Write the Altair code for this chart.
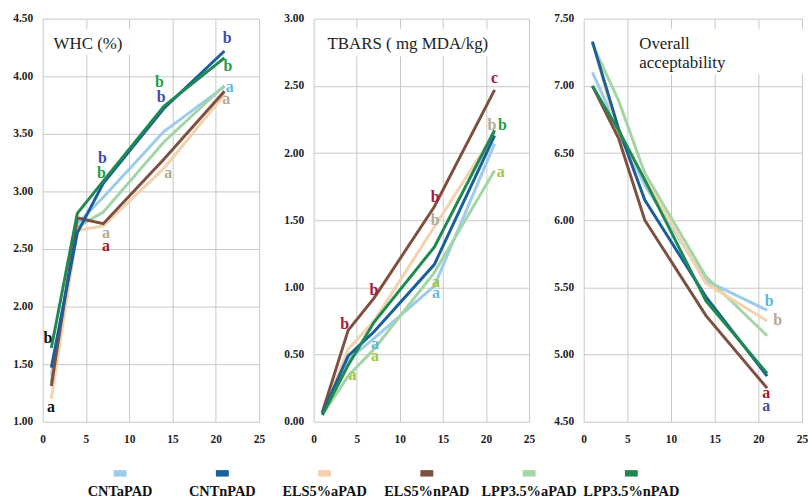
import altair as alt
import pandas as pd

# ---------------- data ----------------
days = [1, 4, 7, 14, 21]
series = ["CNTaPAD", "CNTnPAD", "ELS5%aPAD", "ELS5%nPAD", "LPP3.5%aPAD", "LPP3.5%nPAD"]

# WHC (%)
whc_cnt_a = [1.40, 2.72, 2.95, 3.52, 3.91]
whc_cnt_n = [1.47, 2.64, 3.07, 3.72, 4.22]
whc_els_a = [1.20, 2.66, 2.70, 3.20, 3.84]
whc_els_n = [1.31, 2.77, 2.72, 3.28, 3.87]
whc_lpp_a = [1.34, 2.69, 2.82, 3.43, 3.92]
whc_lpp_n = [1.64, 2.81, 3.09, 3.74, 4.16]

# TBARS (mg MDA/kg)
tb_cnt_a = [0.06, 0.46, 0.62, 1.01, 2.07]
tb_cnt_n = [0.06, 0.49, 0.67, 1.17, 2.13]
tb_els_a = [0.06, 0.54, 0.75, 1.45, 2.15]
tb_els_n = [0.07, 0.68, 0.92, 1.60, 2.47]
tb_lpp_a = [0.05, 0.34, 0.54, 1.11, 1.87]
tb_lpp_n = [0.05, 0.42, 0.74, 1.30, 2.17]

# Overall acceptability
oa_cnt_a = [7.10, 6.67, 6.26, 5.55, 5.33]
oa_cnt_n = [7.33, 6.68, 6.15, 5.43, 4.84]
oa_els_a = [7.33, 6.63, 6.31, 5.53, 5.25]
oa_els_n = [7.00, 6.61, 6.00, 5.29, 4.75]
oa_lpp_a = [7.31, 6.89, 6.35, 5.58, 5.14]
oa_lpp_n = [7.00, 6.67, 6.30, 5.40, 4.86]

# significance letters
whc_ann_series = ["all", "all", "CNTnPAD", "LPP3.5%nPAD", "ELS5%aPAD", "ELS5%nPAD",
                  "LPP3.5%nPAD", "CNTnPAD", "ELS5%aPAD", "CNTnPAD", "LPP3.5%nPAD",
                  "CNTaPAD", "ELS5%aPAD"]
whc_ann_day = [0.6, 0.95, 6.9, 6.8, 7.3, 7.3, 13.5, 13.7, 14.5, 21.3, 21.4, 21.6, 21.2]
whc_ann_value = [1.73, 1.13, 3.29, 3.16, 2.64, 2.53, 3.95, 3.82, 3.16, 4.33, 4.09, 3.91, 3.80]
whc_ann_letter = ["b", "a", "b", "b", "a", "a", "b", "b", "a", "b", "b", "a", "a"]

tb_ann_series = ["ELS5%nPAD", "ELS5%aPAD", "LPP3.5%nPAD", "LPP3.5%aPAD", "ELS5%nPAD",
                 "ELS5%aPAD", "LPP3.5%aPAD", "CNTaPAD", "ELS5%nPAD", "ELS5%nPAD",
                 "CNTaPAD", "LPP3.5%aPAD", "LPP3.5%aPAD"]
tb_ann_day = [21.0, 20.7, 21.9, 21.7, 14.1, 14.1, 14.2, 14.2, 7.0, 3.6, 7.1, 7.1, 4.5]
tb_ann_value = [2.56, 2.21, 2.21, 1.86, 1.67, 1.50, 1.04, 0.96, 0.98, 0.73, 0.58, 0.49, 0.35]
tb_ann_letter = ["c", "b", "b", "a", "b", "b", "a", "a", "b", "b", "a", "a", "a"]

oa_ann_series = ["CNTaPAD", "ELS5%aPAD", "ELS5%nPAD", "CNTnPAD"]
oa_ann_day = [21.25, 22.2, 20.9, 20.9]
oa_ann_value = [5.40, 5.26, 4.71, 4.62]
oa_ann_letter = ["b", "b", "a", "a"]

# ---------------- styles ----------------
line_colors = ["#9ccbec", "#1a5f9c", "#f2d3ae", "#7d5040", "#a3d5a5", "#1f8a4f"]
letter_domain = series + ["all"]
letter_colors = ["#5cb8de", "#3d4faa", "#b5aa98", "#a8163a", "#9cc83c", "#1f9e48", "#111111"]
draw_order = ["CNTaPAD", "LPP3.5%aPAD", "ELS5%aPAD", "ELS5%nPAD", "CNTnPAD", "LPP3.5%nPAD"]

SERIF = "Liberation Serif, DejaVu Serif, serif"
GRID = "#c8c8c8"


def long_df(lists):
    rows = []
    for name, vals in zip(series, lists):
        for d, v in zip(days, vals):
            rows.append({"series": name, "day": d, "value": v})
    return pd.DataFrame(rows)


def panel(lists, ann, ydom, title, tx, box, width):
    df = long_df(lists)
    yvals = [round(ydom[0] + 0.5 * i, 2) for i in range(int(round((ydom[1] - ydom[0]) / 0.5)) + 1)]
    xs = alt.X("day:Q", scale=alt.Scale(domain=[0, 25], nice=False),
               axis=alt.Axis(values=[0, 5, 10, 15, 20, 25], grid=True, gridColor=GRID,
                             domain=False, ticks=False, labelFont=SERIF,
                             labelFontWeight="bold", labelFontSize=11.5, labelColor="#222",
                             labelPadding=12, labelFlush=False, title=None))
    ys = alt.Y("value:Q", scale=alt.Scale(domain=ydom, nice=False, zero=False),
               axis=alt.Axis(values=yvals, format=".2f", grid=True, gridColor=GRID,
                             domain=False, ticks=False, labelFont=SERIF,
                             labelFontWeight="bold", labelFontSize=11.5, labelColor="#222",
                             labelPadding=10, labelFlush=False, title=None))
    one = pd.DataFrame({"k": [0]})
    layers = []
    base_lines = alt.Chart(df).mark_line(opacity=0).encode(x=xs, y=ys)
    layers.append(base_lines)
    layers.append(alt.Chart(one).mark_rect(color="white").encode(
        x=alt.value(box[0]), x2=alt.value(box[1]), y=alt.value(box[2]), y2=alt.value(box[3])))
    for name in draw_order:
        sub = df[df["series"] == name]
        col = line_colors[series.index(name)]
        layers.append(alt.Chart(sub).mark_line(strokeWidth=3, color=col).encode(
            x="day:Q", y="value:Q"))
    adf = pd.DataFrame({"series": ann[0], "day": ann[1], "value": ann[2], "letter": ann[3]})
    layers.append(alt.Chart(adf).mark_text(font=SERIF, fontWeight="bold", fontSize=16,
                                           align="center", baseline="middle").encode(
        x="day:Q", y="value:Q", text="letter:N",
        color=alt.Color("series:N", scale=alt.Scale(domain=letter_domain, range=letter_colors),
                        legend=None)))
    layers.append(alt.Chart(one).mark_text(font=SERIF, fontSize=17, align="left",
                                           baseline="alphabetic", color="#222",
                                           lineBreak="\n", lineHeight=20).encode(
        x=alt.value(tx[0]), y=alt.value(tx[1]), text=alt.value(title)))
    return alt.layer(*layers).properties(width=width, height=406)


p1 = panel([whc_cnt_a, whc_cnt_n, whc_els_a, whc_els_n, whc_lpp_a, whc_lpp_n],
           [whc_ann_series, whc_ann_day, whc_ann_value, whc_ann_letter],
           [1.0, 4.5], "WHC (%)", (11, 30), (6, 88, 10, 36), 218)
p2 = panel([tb_cnt_a, tb_cnt_n, tb_els_a, tb_els_n, tb_lpp_a, tb_lpp_n],
           [tb_ann_series, tb_ann_day, tb_ann_value, tb_ann_letter],
           [0.0, 3.0], "TBARS ( mg MDA/kg)", (14, 30), (7, 182, 10, 38), 217)
p3 = panel([oa_cnt_a, oa_cnt_n, oa_els_a, oa_els_n, oa_lpp_a, oa_lpp_n],
           [oa_ann_series, oa_ann_day, oa_ann_value, oa_ann_letter],
           [4.5, 7.5], "Overall\nacceptability", (56, 30), (49, 225, 10, 56), 220)

top = alt.hconcat(p1, p2, p3, spacing=55, bounds="flush")

leg_df = pd.DataFrame({"name": series})
lx = alt.X("name:N", sort=series, scale=alt.Scale(type="point", padding=0.757), axis=None)
swatch = alt.Chart(leg_df).mark_point(
    shape="M-1,-0.5L1,-0.5L1,0.5L-1,0.5Z", filled=True, size=169, opacity=1).encode(
    x=lx, y=alt.value(21),
    fill=alt.Fill("name:N", scale=alt.Scale(domain=series, range=line_colors), legend=None))
leg_text = alt.Chart(leg_df).mark_text(font=SERIF, fontWeight="bold", fontSize=14.5,
                                       baseline="alphabetic", color="#111").encode(
    x=lx, y=alt.value(44), text="name:N")
legend = alt.layer(swatch, leg_text).properties(width=671, height=45)

chart = alt.vconcat(top, legend, spacing=7, bounds="full").resolve_scale(
    color="independent", fill="independent"
).properties(
    padding={"left": 12, "top": 11, "right": 0, "bottom": 0},
    background="white",
).configure_view(stroke=None)

chart.save("out.html", embed_options={"renderer": "svg", "actions": False})
